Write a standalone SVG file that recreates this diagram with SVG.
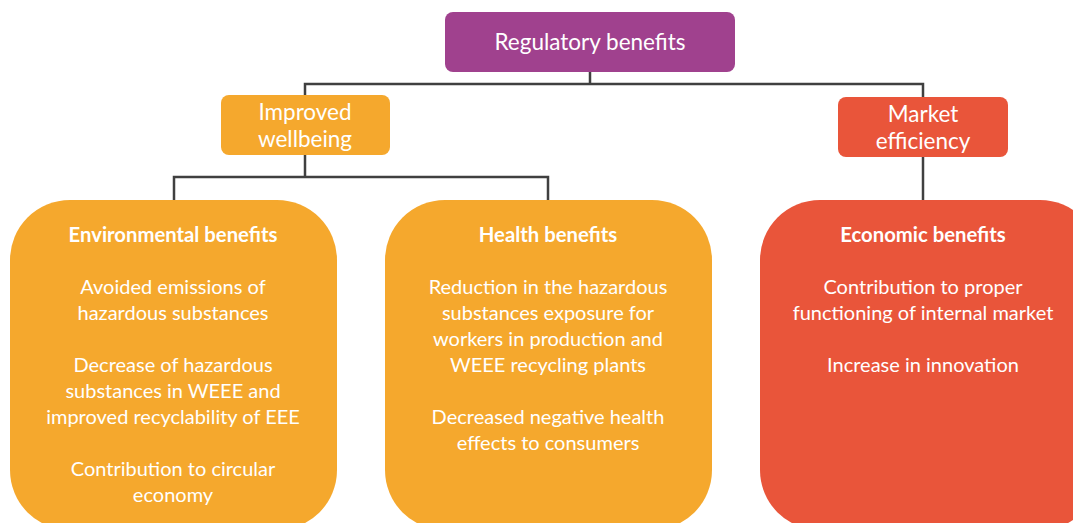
<svg xmlns="http://www.w3.org/2000/svg" width="1073" height="523" viewBox="0 0 1073 523">
<style>
.t{font-family:Lato,"Open Sans","Liberation Sans",sans-serif;fill:#fff;text-anchor:middle;font-size:20px}
.b{font-weight:bold;font-size:20.3px}
.h{font-size:22.5px}
.c{fill:none;stroke:#404040;stroke-width:2.5}
.pur{fill:#A0418E}.org{fill:#F5A82D}.red{fill:#E9553A}
</style>
<rect width="1073" height="523" fill="#fff"/>
<g id="connectors">
<path class="c" d="M590 72V84M305 95V84H923V97"/>
<path class="c" d="M305 155V177M174 200V177H548V200"/>
<path class="c" d="M923 157V200"/>
</g>
<g id="regulatory">
<rect class="pur" x="445" y="12" width="290" height="60" rx="8"/>
<text class="t h" x="590" y="50">Regulatory benefits</text>
</g>
<g id="wellbeing">
<rect class="org" x="221" y="95" width="169" height="60" rx="8"/>
<text class="t h" x="305" y="120">Improved</text>
<text class="t h" x="305" y="147">wellbeing</text>
</g>
<g id="market">
<rect class="red" x="838" y="97" width="170" height="60" rx="8"/>
<text class="t h" x="923" y="122">Market</text>
<text class="t h" x="923" y="149">efficiency</text>
</g>
<g id="environmental">
<rect class="org" x="10" y="200" width="327" height="330" rx="60"/>
<text class="t b" x="173" y="242">Environmental benefits</text>
<text class="t" x="173" y="294">Avoided emissions of</text>
<text class="t" x="173" y="320">hazardous substances</text>
<text class="t" x="173" y="372">Decrease of hazardous</text>
<text class="t" x="173" y="398">substances in WEEE and</text>
<text class="t" x="173" y="424">improved recyclability of EEE</text>
<text class="t" x="173" y="476">Contribution to circular</text>
<text class="t" x="173" y="502">economy</text>
</g>
<g id="health">
<rect class="org" x="385" y="200" width="327" height="330" rx="60"/>
<text class="t b" x="548" y="242">Health benefits</text>
<text class="t" x="548" y="294">Reduction in the hazardous</text>
<text class="t" x="548" y="320">substances exposure for</text>
<text class="t" x="548" y="346">workers in production and</text>
<text class="t" x="548" y="372">WEEE recycling plants</text>
<text class="t" x="548" y="424">Decreased negative health</text>
<text class="t" x="548" y="450">effects to consumers</text>
</g>
<g id="economic">
<rect class="red" x="760" y="200" width="340" height="330" rx="60"/>
<text class="t b" x="923" y="242">Economic benefits</text>
<text class="t" x="923" y="294">Contribution to proper</text>
<text class="t" x="923" y="320">functioning of internal market</text>
<text class="t" x="923" y="372">Increase in innovation</text>
</g>
</svg>
